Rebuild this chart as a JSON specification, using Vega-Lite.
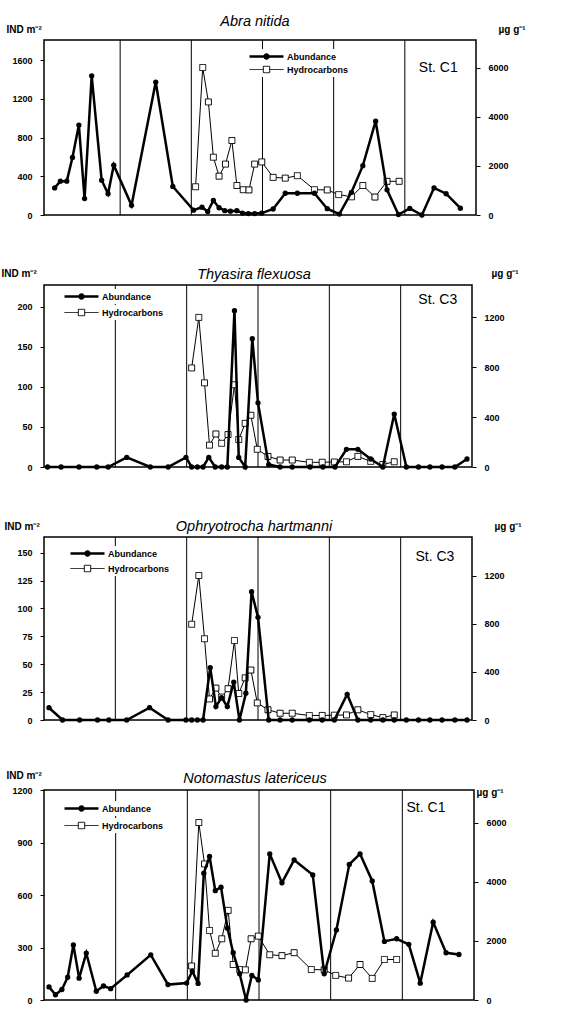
{
"$schema": "https://vega.github.io/schema/vega-lite/v6.json",
"padding": {"left": 0, "top": 12, "right": 0, "bottom": 0},
"bounds": "flush",
"spacing": 70,
"datasets": {
"bounds": [{"t": 1991.37}, {"t": 1992.37}, {"t": 1993.37}, {"t": 1994.37}, {"t": 1995.37}],
"abund": [
{"sp":"Abra","t":1990.45,"n":280},{"sp":"Abra","t":1990.53,"n":350},{"sp":"Abra","t":1990.62,"n":350},{"sp":"Abra","t":1990.70,"n":595},{"sp":"Abra","t":1990.79,"n":930},{"sp":"Abra","t":1990.87,"n":170},{"sp":"Abra","t":1990.97,"n":1440},{"sp":"Abra","t":1991.11,"n":360},{"sp":"Abra","t":1991.20,"n":220},{"sp":"Abra","t":1991.28,"n":515},{"sp":"Abra","t":1991.53,"n":100},{"sp":"Abra","t":1991.87,"n":1375},{"sp":"Abra","t":1992.11,"n":295},{"sp":"Abra","t":1992.40,"n":50},{"sp":"Abra","t":1992.52,"n":80},{"sp":"Abra","t":1992.60,"n":35},{"sp":"Abra","t":1992.68,"n":150},{"sp":"Abra","t":1992.76,"n":75},{"sp":"Abra","t":1992.84,"n":45},{"sp":"Abra","t":1992.92,"n":40},{"sp":"Abra","t":1993.01,"n":45},{"sp":"Abra","t":1993.09,"n":20},{"sp":"Abra","t":1993.17,"n":15},{"sp":"Abra","t":1993.26,"n":15},{"sp":"Abra","t":1993.36,"n":20},{"sp":"Abra","t":1993.52,"n":62},{"sp":"Abra","t":1993.69,"n":225},{"sp":"Abra","t":1993.86,"n":225},{"sp":"Abra","t":1994.10,"n":225},{"sp":"Abra","t":1994.28,"n":65},{"sp":"Abra","t":1994.45,"n":10},{"sp":"Abra","t":1994.62,"n":235},{"sp":"Abra","t":1994.78,"n":510},{"sp":"Abra","t":1994.96,"n":970},{"sp":"Abra","t":1995.12,"n":260},{"sp":"Abra","t":1995.28,"n":5},{"sp":"Abra","t":1995.44,"n":68},{"sp":"Abra","t":1995.61,"n":0},{"sp":"Abra","t":1995.78,"n":280},{"sp":"Abra","t":1995.95,"n":220},{"sp":"Abra","t":1996.15,"n":70},
{"sp":"Thy","t":1990.42,"n":0},{"sp":"Thy","t":1990.61,"n":0},{"sp":"Thy","t":1990.86,"n":0},{"sp":"Thy","t":1991.11,"n":0},{"sp":"Thy","t":1991.27,"n":0},{"sp":"Thy","t":1991.53,"n":12},{"sp":"Thy","t":1991.86,"n":0},{"sp":"Thy","t":1992.11,"n":0},{"sp":"Thy","t":1992.36,"n":12},{"sp":"Thy","t":1992.44,"n":0},{"sp":"Thy","t":1992.52,"n":0},{"sp":"Thy","t":1992.60,"n":0},{"sp":"Thy","t":1992.68,"n":12},{"sp":"Thy","t":1992.77,"n":0},{"sp":"Thy","t":1992.86,"n":0},{"sp":"Thy","t":1992.94,"n":0},{"sp":"Thy","t":1993.04,"n":195},{"sp":"Thy","t":1993.10,"n":12},{"sp":"Thy","t":1993.19,"n":0},{"sp":"Thy","t":1993.29,"n":160},{"sp":"Thy","t":1993.37,"n":80},{"sp":"Thy","t":1993.52,"n":3},{"sp":"Thy","t":1993.68,"n":0},{"sp":"Thy","t":1993.85,"n":0},{"sp":"Thy","t":1994.10,"n":0},{"sp":"Thy","t":1994.28,"n":0},{"sp":"Thy","t":1994.45,"n":0},{"sp":"Thy","t":1994.61,"n":22},{"sp":"Thy","t":1994.77,"n":22},{"sp":"Thy","t":1994.95,"n":10},{"sp":"Thy","t":1995.12,"n":0},{"sp":"Thy","t":1995.28,"n":66},{"sp":"Thy","t":1995.45,"n":0},{"sp":"Thy","t":1995.62,"n":0},{"sp":"Thy","t":1995.78,"n":0},{"sp":"Thy","t":1995.95,"n":0},{"sp":"Thy","t":1996.13,"n":0},{"sp":"Thy","t":1996.30,"n":10},
{"sp":"Oph","t":1990.44,"n":11},{"sp":"Oph","t":1990.63,"n":0},{"sp":"Oph","t":1990.87,"n":0},{"sp":"Oph","t":1991.12,"n":0},{"sp":"Oph","t":1991.28,"n":0},{"sp":"Oph","t":1991.53,"n":0},{"sp":"Oph","t":1991.85,"n":11},{"sp":"Oph","t":1992.11,"n":0},{"sp":"Oph","t":1992.36,"n":0},{"sp":"Oph","t":1992.44,"n":0},{"sp":"Oph","t":1992.52,"n":0},{"sp":"Oph","t":1992.60,"n":0},{"sp":"Oph","t":1992.70,"n":47},{"sp":"Oph","t":1992.78,"n":12},{"sp":"Oph","t":1992.86,"n":20},{"sp":"Oph","t":1992.94,"n":12},{"sp":"Oph","t":1993.03,"n":34},{"sp":"Oph","t":1993.11,"n":0},{"sp":"Oph","t":1993.20,"n":24},{"sp":"Oph","t":1993.28,"n":115},{"sp":"Oph","t":1993.37,"n":92},{"sp":"Oph","t":1993.52,"n":0},{"sp":"Oph","t":1993.68,"n":0},{"sp":"Oph","t":1993.85,"n":0},{"sp":"Oph","t":1994.09,"n":0},{"sp":"Oph","t":1994.27,"n":0},{"sp":"Oph","t":1994.44,"n":0},{"sp":"Oph","t":1994.62,"n":23},{"sp":"Oph","t":1994.77,"n":0},{"sp":"Oph","t":1994.95,"n":0},{"sp":"Oph","t":1995.12,"n":0},{"sp":"Oph","t":1995.28,"n":0},{"sp":"Oph","t":1995.45,"n":0},{"sp":"Oph","t":1995.62,"n":0},{"sp":"Oph","t":1995.78,"n":0},{"sp":"Oph","t":1995.95,"n":0},{"sp":"Oph","t":1996.13,"n":0},{"sp":"Oph","t":1996.30,"n":0},
{"sp":"Not","t":1990.44,"n":75},{"sp":"Not","t":1990.53,"n":30},{"sp":"Not","t":1990.62,"n":60},{"sp":"Not","t":1990.70,"n":130},{"sp":"Not","t":1990.78,"n":315},{"sp":"Not","t":1990.86,"n":125},{"sp":"Not","t":1990.96,"n":268},{"sp":"Not","t":1991.10,"n":50},{"sp":"Not","t":1991.20,"n":80},{"sp":"Not","t":1991.30,"n":65},{"sp":"Not","t":1991.53,"n":143},{"sp":"Not","t":1991.86,"n":258},{"sp":"Not","t":1992.10,"n":88},{"sp":"Not","t":1992.36,"n":97},{"sp":"Not","t":1992.44,"n":165},{"sp":"Not","t":1992.52,"n":95},{"sp":"Not","t":1992.60,"n":725},{"sp":"Not","t":1992.68,"n":820},{"sp":"Not","t":1992.76,"n":625},{"sp":"Not","t":1992.84,"n":645},{"sp":"Not","t":1992.93,"n":410},{"sp":"Not","t":1993.01,"n":270},{"sp":"Not","t":1993.10,"n":150},{"sp":"Not","t":1993.19,"n":0},{"sp":"Not","t":1993.27,"n":140},{"sp":"Not","t":1993.36,"n":115},{"sp":"Not","t":1993.52,"n":835},{"sp":"Not","t":1993.69,"n":670},{"sp":"Not","t":1993.86,"n":800},{"sp":"Not","t":1994.12,"n":715},{"sp":"Not","t":1994.28,"n":150},{"sp":"Not","t":1994.45,"n":400},{"sp":"Not","t":1994.63,"n":775},{"sp":"Not","t":1994.78,"n":835},{"sp":"Not","t":1994.95,"n":680},{"sp":"Not","t":1995.12,"n":335},{"sp":"Not","t":1995.29,"n":350},{"sp":"Not","t":1995.46,"n":318},{"sp":"Not","t":1995.62,"n":96},{"sp":"Not","t":1995.80,"n":445},{"sp":"Not","t":1995.98,"n":270},{"sp":"Not","t":1996.16,"n":260}
],
"hc": [
{"st":"C1","t":1992.43,"hc":1150},{"st":"C1","t":1992.53,"hc":6000},{"st":"C1","t":1992.61,"hc":4600},{"st":"C1","t":1992.68,"hc":2350},{"st":"C1","t":1992.76,"hc":1580},{"st":"C1","t":1992.85,"hc":2070},{"st":"C1","t":1992.94,"hc":3030},{"st":"C1","t":1993.01,"hc":1200},{"st":"C1","t":1993.10,"hc":1030},{"st":"C1","t":1993.18,"hc":1020},{"st":"C1","t":1993.26,"hc":2070},{"st":"C1","t":1993.36,"hc":2160},{"st":"C1","t":1993.52,"hc":1530},{"st":"C1","t":1993.69,"hc":1500},{"st":"C1","t":1993.86,"hc":1600},{"st":"C1","t":1994.10,"hc":1030},{"st":"C1","t":1994.28,"hc":1020},{"st":"C1","t":1994.44,"hc":830},{"st":"C1","t":1994.62,"hc":740},{"st":"C1","t":1994.78,"hc":1200},{"st":"C1","t":1994.95,"hc":730},{"st":"C1","t":1995.12,"hc":1370},{"st":"C1","t":1995.29,"hc":1370},
{"st":"C3","t":1992.44,"hc":795},{"st":"C3","t":1992.54,"hc":1200},{"st":"C3","t":1992.62,"hc":675},{"st":"C3","t":1992.69,"hc":175},{"st":"C3","t":1992.78,"hc":265},{"st":"C3","t":1992.86,"hc":190},{"st":"C3","t":1992.95,"hc":260},{"st":"C3","t":1993.04,"hc":660},{"st":"C3","t":1993.10,"hc":220},{"st":"C3","t":1993.19,"hc":350},{"st":"C3","t":1993.27,"hc":415},{"st":"C3","t":1993.36,"hc":142},{"st":"C3","t":1993.51,"hc":85},{"st":"C3","t":1993.68,"hc":56},{"st":"C3","t":1993.85,"hc":56},{"st":"C3","t":1994.09,"hc":37},{"st":"C3","t":1994.27,"hc":38},{"st":"C3","t":1994.44,"hc":40},{"st":"C3","t":1994.61,"hc":42},{"st":"C3","t":1994.77,"hc":85},{"st":"C3","t":1994.95,"hc":45},{"st":"C3","t":1995.12,"hc":20},{"st":"C3","t":1995.28,"hc":42}
]
},
"vconcat": [
{
"width": 432, "height": 175,
"title": {"text": "Abra nitida", "frame": "group", "offset": -5, "dx": -5},
"layer": [
{"data": {"name": "bounds"}, "mark": {"type": "rule", "color": "black", "strokeWidth": 1},
 "encoding": {"x": {"field": "t", "type": "quantitative", "scale": {"domain": [1990.30, 1996.37], "nice": false, "zero": false}, "axis": {"values": [1991, 1992, 1993, 1994, 1995, 1996], "format": "d", "title": null, "ticks": false, "labelPadding": 7, "labelFontSize": 10, "labelFontWeight": "bold", "labelFlush": false}}}},
{"data": {"name": "hc"},
 "transform": [{"filter": "datum.st === 'C1'"}],
 "encoding": {"x": {"field": "t", "type": "quantitative", "scale": {"domain": [1990.30, 1996.37], "nice": false, "zero": false}, "axis": {"values": [1991, 1992, 1993, 1994, 1995, 1996], "format": "d", "title": null, "ticks": false, "labelPadding": 7, "labelFontSize": 10, "labelFontWeight": "bold", "labelFlush": false}},
  "y": {"field": "hc", "type": "quantitative", "scale": {"domain": [0, 7120], "nice": false, "zero": true}, "axis": {"orient": "right", "values": [0, 2000, 4000, 6000], "format": "d", "title": "µg g⁻¹", "titleX": 22, "titleY": -8}}},
 "layer": [
  {"mark": {"type": "line", "color": "black", "strokeWidth": 1}},
  {"mark": {"type": "square", "filled": true, "fill": "white", "stroke": "black", "strokeWidth": 1, "size": 36, "opacity": 1},
   "encoding": {"strokeDash": {"datum": "Hydrocarbons", "type": "nominal", "scale": {"domain": ["Hydrocarbons"], "range": [[1, 0]]},
     "legend": {"orient": "none", "legendX": 215, "legendY": 22, "title": null, "symbolType": "M-3.4,0H-0.64M0.64,0H3.4M-0.64,-0.64H0.64V0.64H-0.64Z"}}}}
 ]},
{"data": {"name": "abund"},
 "transform": [{"filter": "datum.sp === 'Abra'"}],
 "encoding": {"x": {"field": "t", "type": "quantitative", "scale": {"domain": [1990.30, 1996.37], "nice": false, "zero": false}, "axis": {"values": [1991, 1992, 1993, 1994, 1995, 1996], "format": "d", "title": null, "ticks": false, "labelPadding": 7, "labelFontSize": 10, "labelFontWeight": "bold", "labelFlush": false}},
  "y": {"field": "n", "type": "quantitative", "scale": {"domain": [0, 1810], "nice": false, "zero": true}, "axis": {"orient": "left", "values": [0, 400, 800, 1200, 1600], "format": "d", "title": "IND m⁻²", "titleX": -38, "titleY": -8}}},
 "layer": [
  {"mark": {"type": "line", "color": "black", "strokeWidth": 2.5}},
  {"mark": {"type": "circle", "color": "black", "size": 28, "opacity": 1},
   "encoding": {"opacity": {"datum": "Abundance", "type": "nominal", "scale": {"domain": ["Abundance"], "range": [1, 1]},
     "legend": {"orient": "none", "legendX": 215, "legendY": 9, "title": null, "symbolType": "M-3.4,-0.26H3.4V0.26H-3.4Z M-0.64,0A0.64,0.64 0 1,1 0.64,0A0.64,0.64 0 1,1 -0.64,0Z"}}}}
 ]},
{"data": {"values": [{"label": "St. C1"}]}, "mark": {"type": "text", "fontSize": 14, "align": "center", "baseline": "middle", "color": "black"},
 "encoding": {"x": {"datum": 1995.84, "type": "quantitative", "scale": {"domain": [1990.30, 1996.37], "nice": false, "zero": false}, "axis": null}, "y": {"datum": 1524, "type": "quantitative", "scale": {"domain": [0, 1810], "nice": false}, "axis": null}, "text": {"field": "label", "type": "nominal"}}}
],
"resolve": {"scale": {"y": "independent"}}
},
{
"width": 428, "height": 182,
"title": {"text": "Thyasira flexuosa", "frame": "group", "offset": -14, "dx": -4},
"layer": [
{"data": {"name": "bounds"}, "mark": {"type": "rule", "color": "black", "strokeWidth": 1},
 "encoding": {"x": {"field": "t", "type": "quantitative", "scale": {"domain": [1990.37, 1996.37], "nice": false, "zero": false}, "axis": {"values": [1991, 1992, 1993, 1994, 1995, 1996], "format": "d", "title": null, "ticks": false, "labelPadding": 7, "labelFontSize": 10, "labelFontWeight": "bold", "labelFlush": false}}}},
{"data": {"name": "hc"},
 "transform": [{"filter": "datum.st === 'C3'"}],
 "encoding": {"x": {"field": "t", "type": "quantitative", "scale": {"domain": [1990.37, 1996.37], "nice": false, "zero": false}, "axis": {"values": [1991, 1992, 1993, 1994, 1995, 1996], "format": "d", "title": null, "ticks": false, "labelPadding": 7, "labelFontSize": 10, "labelFontWeight": "bold", "labelFlush": false}},
  "y": {"field": "hc", "type": "quantitative", "scale": {"domain": [0, 1460], "nice": false, "zero": true}, "axis": {"orient": "right", "values": [0, 400, 800, 1200], "format": "d", "title": "µg g⁻¹", "titleX": 19, "titleY": -9}}},
 "layer": [
  {"mark": {"type": "line", "color": "black", "strokeWidth": 1}},
  {"mark": {"type": "square", "filled": true, "fill": "white", "stroke": "black", "strokeWidth": 1, "size": 36, "opacity": 1},
   "encoding": {"strokeDash": {"datum": "Hydrocarbons", "type": "nominal", "scale": {"domain": ["Hydrocarbons"], "range": [[1, 0]]},
     "legend": {"orient": "none", "legendX": 30, "legendY": 20, "title": null, "symbolType": "M-3.4,0H-0.64M0.64,0H3.4M-0.64,-0.64H0.64V0.64H-0.64Z"}}}}
 ]},
{"data": {"name": "abund"},
 "transform": [{"filter": "datum.sp === 'Thy'"}],
 "encoding": {"x": {"field": "t", "type": "quantitative", "scale": {"domain": [1990.37, 1996.37], "nice": false, "zero": false}, "axis": {"values": [1991, 1992, 1993, 1994, 1995, 1996], "format": "d", "title": null, "ticks": false, "labelPadding": 7, "labelFontSize": 10, "labelFontWeight": "bold", "labelFlush": false}},
  "y": {"field": "n", "type": "quantitative", "scale": {"domain": [0, 227], "nice": false, "zero": true}, "axis": {"orient": "left", "values": [0, 50, 100, 150, 200], "format": "d", "title": "IND m⁻²", "titleX": -43, "titleY": -9}}},
 "layer": [
  {"mark": {"type": "line", "color": "black", "strokeWidth": 2.5}},
  {"mark": {"type": "circle", "color": "black", "size": 28, "opacity": 1},
   "encoding": {"opacity": {"datum": "Abundance", "type": "nominal", "scale": {"domain": ["Abundance"], "range": [1, 1]},
     "legend": {"orient": "none", "legendX": 30, "legendY": 4, "title": null, "symbolType": "M-3.4,-0.26H3.4V0.26H-3.4Z M-0.64,0A0.64,0.64 0 1,1 0.64,0A0.64,0.64 0 1,1 -0.64,0Z"}}}}
 ]},
{"data": {"values": [{"label": "St. C3"}]}, "mark": {"type": "text", "fontSize": 14, "align": "center", "baseline": "middle", "color": "black"},
 "encoding": {"x": {"datum": 1995.89, "type": "quantitative", "scale": {"domain": [1990.37, 1996.37], "nice": false, "zero": false}, "axis": null}, "y": {"datum": 208, "type": "quantitative", "scale": {"domain": [0, 227], "nice": false}, "axis": null}, "text": {"field": "label", "type": "nominal"}}}
],
"resolve": {"scale": {"y": "independent"}}
},
{
"width": 428, "height": 183,
"title": {"text": "Ophryotrocha hartmanni", "frame": "group", "offset": -13, "dx": -4},
"layer": [
{"data": {"name": "bounds"}, "mark": {"type": "rule", "color": "black", "strokeWidth": 1},
 "encoding": {"x": {"field": "t", "type": "quantitative", "scale": {"domain": [1990.37, 1996.37], "nice": false, "zero": false}, "axis": {"values": [1991, 1992, 1993, 1994, 1995, 1996], "format": "d", "title": null, "ticks": false, "labelPadding": 7, "labelFontSize": 10, "labelFontWeight": "bold", "labelFlush": false}}}},
{"data": {"name": "hc"},
 "transform": [{"filter": "datum.st === 'C3'"}],
 "encoding": {"x": {"field": "t", "type": "quantitative", "scale": {"domain": [1990.37, 1996.37], "nice": false, "zero": false}, "axis": {"values": [1991, 1992, 1993, 1994, 1995, 1996], "format": "d", "title": null, "ticks": false, "labelPadding": 7, "labelFontSize": 10, "labelFontWeight": "bold", "labelFlush": false}},
  "y": {"field": "hc", "type": "quantitative", "scale": {"domain": [0, 1520], "nice": false, "zero": true}, "axis": {"orient": "right", "values": [0, 400, 800, 1200], "format": "d", "title": "µg g⁻¹", "titleX": 22, "titleY": -8}}},
 "layer": [
  {"mark": {"type": "line", "color": "black", "strokeWidth": 1}},
  {"mark": {"type": "square", "filled": true, "fill": "white", "stroke": "black", "strokeWidth": 1, "size": 36, "opacity": 1},
   "encoding": {"strokeDash": {"datum": "Hydrocarbons", "type": "nominal", "scale": {"domain": ["Hydrocarbons"], "range": [[1, 0]]},
     "legend": {"orient": "none", "legendX": 36, "legendY": 24, "title": null, "symbolType": "M-3.4,0H-0.64M0.64,0H3.4M-0.64,-0.64H0.64V0.64H-0.64Z"}}}}
 ]},
{"data": {"name": "abund"},
 "transform": [{"filter": "datum.sp === 'Oph'"}],
 "encoding": {"x": {"field": "t", "type": "quantitative", "scale": {"domain": [1990.37, 1996.37], "nice": false, "zero": false}, "axis": {"values": [1991, 1992, 1993, 1994, 1995, 1996], "format": "d", "title": null, "ticks": false, "labelPadding": 7, "labelFontSize": 10, "labelFontWeight": "bold", "labelFlush": false}},
  "y": {"field": "n", "type": "quantitative", "scale": {"domain": [0, 164], "nice": false, "zero": true}, "axis": {"orient": "left", "values": [0, 25, 50, 75, 100, 125, 150], "format": "d", "title": "IND m⁻²", "titleX": -40, "titleY": -8}}},
 "layer": [
  {"mark": {"type": "line", "color": "black", "strokeWidth": 2.5}},
  {"mark": {"type": "circle", "color": "black", "size": 28, "opacity": 1},
   "encoding": {"opacity": {"datum": "Abundance", "type": "nominal", "scale": {"domain": ["Abundance"], "range": [1, 1]},
     "legend": {"orient": "none", "legendX": 36, "legendY": 9, "title": null, "symbolType": "M-3.4,-0.26H3.4V0.26H-3.4Z M-0.64,0A0.64,0.64 0 1,1 0.64,0A0.64,0.64 0 1,1 -0.64,0Z"}}}}
 ]},
{"data": {"values": [{"label": "St. C3"}]}, "mark": {"type": "text", "fontSize": 14, "align": "center", "baseline": "middle", "color": "black"},
 "encoding": {"x": {"datum": 1995.85, "type": "quantitative", "scale": {"domain": [1990.37, 1996.37], "nice": false, "zero": false}, "axis": null}, "y": {"datum": 146, "type": "quantitative", "scale": {"domain": [0, 164], "nice": false}, "axis": null}, "text": {"field": "label", "type": "nominal"}}}
],
"resolve": {"scale": {"y": "independent"}}
},
{
"width": 430, "height": 210,
"title": {"text": "Notomastus latericeus", "frame": "group", "offset": -16, "dx": -4},
"layer": [
{"data": {"name": "bounds"}, "mark": {"type": "rule", "color": "black", "strokeWidth": 1},
 "encoding": {"x": {"field": "t", "type": "quantitative", "scale": {"domain": [1990.37, 1996.37], "nice": false, "zero": false}, "axis": {"values": [1991, 1992, 1993, 1994, 1995, 1996], "format": "d", "title": null, "ticks": false, "labelPadding": 7, "labelFontSize": 10, "labelFontWeight": "bold", "labelFlush": false}}}},
{"data": {"name": "hc"},
 "transform": [{"filter": "datum.st === 'C1'"}],
 "encoding": {"x": {"field": "t", "type": "quantitative", "scale": {"domain": [1990.37, 1996.37], "nice": false, "zero": false}, "axis": {"values": [1991, 1992, 1993, 1994, 1995, 1996], "format": "d", "title": null, "ticks": false, "labelPadding": 7, "labelFontSize": 10, "labelFontWeight": "bold", "labelFlush": false}},
  "y": {"field": "hc", "type": "quantitative", "scale": {"domain": [0, 7100], "nice": false, "zero": true}, "axis": {"orient": "right", "values": [0, 2000, 4000, 6000], "format": "d", "title": "µg g⁻¹", "titleX": 2, "titleY": 5}}},
 "layer": [
  {"mark": {"type": "line", "color": "black", "strokeWidth": 1}},
  {"mark": {"type": "square", "filled": true, "fill": "white", "stroke": "black", "strokeWidth": 1, "size": 36, "opacity": 1},
   "encoding": {"strokeDash": {"datum": "Hydrocarbons", "type": "nominal", "scale": {"domain": ["Hydrocarbons"], "range": [[1, 0]]},
     "legend": {"orient": "none", "legendX": 30, "legendY": 28, "title": null, "symbolType": "M-3.4,0H-0.64M0.64,0H3.4M-0.64,-0.64H0.64V0.64H-0.64Z"}}}}
 ]},
{"data": {"name": "abund"},
 "transform": [{"filter": "datum.sp === 'Not'"}],
 "encoding": {"x": {"field": "t", "type": "quantitative", "scale": {"domain": [1990.37, 1996.37], "nice": false, "zero": false}, "axis": {"values": [1991, 1992, 1993, 1994, 1995, 1996], "format": "d", "title": null, "ticks": false, "labelPadding": 7, "labelFontSize": 10, "labelFontWeight": "bold", "labelFlush": false}},
  "y": {"field": "n", "type": "quantitative", "scale": {"domain": [0, 1200], "nice": false, "zero": true}, "axis": {"orient": "left", "values": [0, 300, 600, 900, 1200], "format": "d", "title": "IND m⁻²", "titleX": -38, "titleY": -12}}},
 "layer": [
  {"mark": {"type": "line", "color": "black", "strokeWidth": 2.5}},
  {"mark": {"type": "circle", "color": "black", "size": 28, "opacity": 1},
   "encoding": {"opacity": {"datum": "Abundance", "type": "nominal", "scale": {"domain": ["Abundance"], "range": [1, 1]},
     "legend": {"orient": "none", "legendX": 30, "legendY": 11, "title": null, "symbolType": "M-3.4,-0.26H3.4V0.26H-3.4Z M-0.64,0A0.64,0.64 0 1,1 0.64,0A0.64,0.64 0 1,1 -0.64,0Z"}}}}
 ]},
{"data": {"values": [{"label": "St. C1"}]}, "mark": {"type": "text", "fontSize": 14, "align": "center", "baseline": "middle", "color": "black"},
 "encoding": {"x": {"datum": 1995.70, "type": "quantitative", "scale": {"domain": [1990.37, 1996.37], "nice": false, "zero": false}, "axis": null}, "y": {"datum": 1097, "type": "quantitative", "scale": {"domain": [0, 1200], "nice": false}, "axis": null}, "text": {"field": "label", "type": "nominal"}}}
],
"resolve": {"scale": {"y": "independent"}}
}
],
"resolve": {"scale": {"x": "independent", "y": "independent", "opacity": "independent", "strokeDash": "independent"}, "legend": {"opacity": "independent", "strokeDash": "independent"}},
"config": {
"font": "Liberation Sans",
"view": {"stroke": "black", "strokeWidth": 1.5},
"axis": {"grid": false, "domain": false, "labelFont": "Liberation Sans", "titleFont": "Liberation Sans", "labelColor": "black", "titleColor": "black", "tickColor": "black", "tickSize": 4, "labelFontSize": 9, "labelFontWeight": "bold", "labelPadding": 8, "labelFlush": false, "labelOverlap": false, "titleFontSize": 10, "titleFontWeight": "bold"},
"axisY": {"titleAngle": 0, "titleAlign": "left", "titleBaseline": "alphabetic"},
"title": {"font": "Liberation Sans", "fontSize": 14.5, "fontStyle": "italic", "fontWeight": "normal", "color": "black", "anchor": "middle"},
"legend": {"labelFont": "Liberation Sans", "labelFontSize": 9, "labelFontWeight": "bold", "labelColor": "black", "fillColor": "white", "padding": 2, "symbolSize": 100, "symbolStrokeWidth": 1, "labelOffset": 15},
"text": {"font": "Liberation Sans"}
}
}
